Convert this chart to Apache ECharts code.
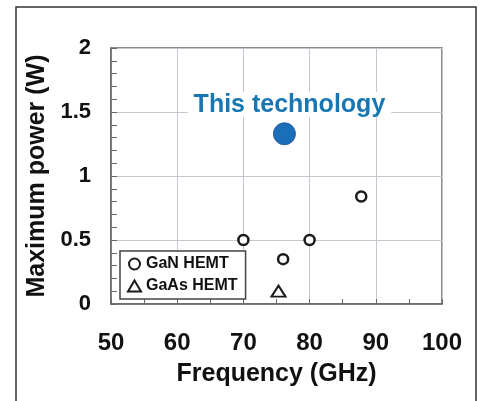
<!DOCTYPE html>
<html>
<head>
<meta charset="utf-8">
<script src="https://cdn.jsdelivr.net/npm/echarts@6/dist/echarts.min.js"></script>
<style>
  html, body { margin: 0; padding: 0; background: #fff; }
  #chart { width: 482px; height: 401px; }
</style>
</head>
<body>
<div id="chart"></div>
<script>
// values
const ganFreq = [70, 80, 76, 87.8];
const ganPower = [0.5, 0.5, 0.35, 0.84];
const gaasFreq = [75.3];
const gaasPower = [0.1];
const thisFreq = [76.2];
const thisPower = [1.33];

const xTicks = [50, 60, 70, 80, 90, 100];
const yTicks = [0, 0.5, 1, 1.5, 2];

const FONT = "'Liberation Sans', Arial, sans-serif";
const INK = '#111';

function pairs(xs, ys) {
    return xs.map((x, i) => [x, ys[i]]);
}

const chart = echarts.init(document.getElementById('chart'));

const option = {
    animation: false,
    backgroundColor: '#fff',
    textStyle: { fontFamily: FONT },
    grid: {
        left: 111, right: 40, top: 48, bottom: 97,
        show: true,
        borderColor: '#666',
        borderWidth: 1.5
    },
    graphic: [{
        type: 'rect',
        silent: true,
        z: 100,
        shape: { x: 16, y: 7, width: 460, height: 430 },
        style: { fill: 'none', stroke: '#333', lineWidth: 1.5 }
    }],
    legend: {
        orient: 'vertical',
        left: 120, top: 251,
        width: 123,
        data: ['GaN HEMT', 'GaAs HEMT'],
        backgroundColor: '#fff',
        borderColor: '#444',
        borderWidth: 1.5,
        padding: [5, 8, 5, 7],
        itemGap: 6,
        itemWidth: 13,
        itemHeight: 11,
        textStyle: { fontSize: 16, fontWeight: 'bold', color: INK, fontFamily: FONT }
    },
    xAxis: {
        type: 'value',
        min: xTicks[0], max: xTicks[xTicks.length - 1], interval: 10,
        name: 'Frequency (GHz)',
        nameLocation: 'middle',
        nameGap: 58,
        nameTextStyle: { fontSize: 25, fontWeight: 'bold', color: INK, fontFamily: FONT },
        axisLine: { lineStyle: { color: '#666', width: 1.5 } },
        axisTick: { show: true, inside: true, length: 5, lineStyle: { color: '#666', width: 1 } },
        minorTick: { show: true, splitNumber: 2, length: 5, lineStyle: { color: '#666', width: 1 } },
        axisLabel: { fontSize: 24, fontWeight: 'bold', color: INK, margin: 27, fontFamily: FONT },
        splitLine: { show: true, lineStyle: { color: '#c3c7d0', width: 1 } }
    },
    yAxis: {
        type: 'value',
        min: yTicks[0], max: yTicks[yTicks.length - 1], interval: 0.5,
        name: 'Maximum power (W)',
        nameLocation: 'middle',
        nameGap: 59,
        nameTextStyle: { fontSize: 25, fontWeight: 'bold', color: INK, fontFamily: FONT },
        axisLine: { lineStyle: { color: '#666', width: 1.5 } },
        axisTick: { show: true, inside: true, length: 6, lineStyle: { color: '#666', width: 1 } },
        minorTick: { show: true, splitNumber: 5, length: 6, lineStyle: { color: '#666', width: 1 } },
        axisLabel: { fontSize: 22, fontWeight: 'bold', color: INK, margin: 20, fontFamily: FONT },
        splitLine: { show: true, lineStyle: { color: '#c3c7d0', width: 1 } }
    },
    series: [
        {
            name: 'GaN HEMT',
            type: 'scatter',
            symbol: 'circle',
            symbolSize: 10,
            data: pairs(ganFreq, ganPower),
            itemStyle: { color: '#fff', borderColor: '#1a1a1a', borderWidth: 2.5, opacity: 1 }
        },
        {
            name: 'GaAs HEMT',
            type: 'scatter',
            symbol: 'triangle',
            symbolSize: [14, 11],
            data: pairs(gaasFreq, gaasPower),
            itemStyle: { color: '#fff', borderColor: '#1a1a1a', borderWidth: 2, opacity: 1 }
        },
        {
            name: 'This technology',
            type: 'scatter',
            symbol: 'circle',
            symbolSize: 22,
            z: 5,
            data: pairs(thisFreq, thisPower),
            itemStyle: { color: '#1a6fb7', borderColor: '#2a5ca6', borderWidth: 1, opacity: 1 },
            label: {
                show: true,
                position: 'top',
                distance: 5,
                formatter: 'This technology',
                fontSize: 25,
                fontWeight: 'bold',
                color: '#1877b3',
                fontFamily: FONT,
                backgroundColor: '#fff',
                padding: [0, 6],
                offset: [5, 0]
            }
        }
    ]
};

chart.setOption(option);
</script>
</body>
</html>
